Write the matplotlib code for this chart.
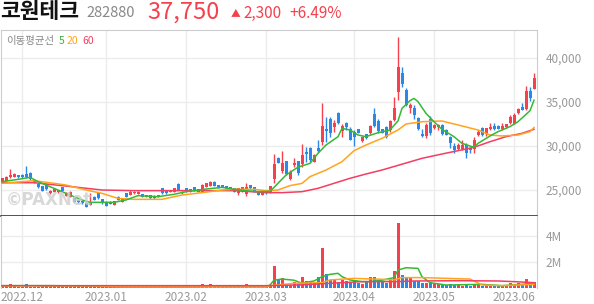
import matplotlib
matplotlib.use("Agg")
import matplotlib.pyplot as plt

plt.rcParams["font.family"] = ["Noto Sans CJK KR", "DejaVu Sans"]

# daily candles, 2022-11-24 .. 2023-06-09 (trading days)
opens = [25950, 26060, 26440, 26520, 26700, 26700, 26780, 26900, 26140, 25640,
         25450, 25640, 24620, 24810, 24740, 25300, 24320, 24240, 24130, 23870,
         23750, 23560, 23300, 24240, 24620, 23940, 23680, 23680, 23300, 24240,
         23680, 24620, 24430, 24620, 24550, 24550, 24240, 24430, 24360, 24240,
         25190, 24930, 24810, 24810, 25640, 24620, 25190, 24810, 25300, 24810,
         24810, 25380, 25450, 25950, 25570, 25570, 25450, 25300, 25190, 24620,
         24810, 24550, 25570, 25300, 24810, 24430, 25000, 24700, 26200, 28670,
         27120, 28300, 26290, 27800, 28260, 27960, 29360, 29730, 28220, 29810,
         30450, 31970, 33030, 32200, 33790, 31740, 32570, 31970, 31630, 31890,
         30570, 31360, 31440, 33640, 32840, 31890, 32200, 31820, 32950, 36170,
         38330, 36360, 34280, 34280, 33140, 31360, 31140, 33030, 32000, 32120,
         32390, 31820, 31060, 30000, 29620, 29620, 30110, 29730, 29620, 31250,
         32000, 31360, 31970, 32270, 32310, 31890, 32120, 32570, 32500, 33710,
         34390, 34170, 36300, 36500]
highs = [26420, 26600, 27400, 26900, 26750, 26780, 27730, 27000, 26200, 25700,
         25500, 25700, 24950, 25150, 25050, 25350, 24750, 24900, 24200, 23950,
         23800, 23600, 24620, 24300, 24810, 24000, 23750, 23720, 23800, 24300,
         24100, 24700, 25000, 24860, 24860, 24600, 24480, 24480, 24400, 24480,
         25250, 24980, 25050, 25240, 25800, 24860, 25240, 25130, 25350, 25130,
         25650, 25810, 26050, 26050, 25620, 25620, 25500, 25350, 25240, 25240,
         25350, 25760, 25620, 25350, 24860, 24860, 25050, 25500, 29100, 28750,
         29470, 28350, 27250, 28600, 28300, 30230, 29920, 29850, 29050, 30680,
         34850, 33250, 33250, 32950, 33850, 32450, 32760, 32200, 31820, 31950,
         31150, 31420, 32400, 34280, 33030, 31950, 32270, 32950, 35600, 42340,
         38940, 36550, 34850, 34660, 33330, 31890, 32580, 33400, 32450, 32500,
         32450, 31900, 31140, 30300, 30300, 30680, 30300, 29850, 30980, 31820,
         32120, 32080, 32580, 32580, 32350, 32580, 32500, 33520, 33700, 34280,
         34850, 36820, 36740, 38250]
lows = [25880, 26000, 26400, 26480, 26400, 26400, 26400, 26150, 25800, 25250,
        24900, 25000, 24580, 24780, 24700, 24880, 24280, 24200, 23620, 23550,
        23450, 23050, 23250, 23820, 24000, 23450, 23150, 23380, 23250, 23820,
        23640, 24200, 24400, 24580, 24500, 24200, 24200, 24000, 24000, 24200,
        24580, 24580, 24770, 24770, 24960, 24580, 24770, 24770, 24880, 24770,
        24770, 25340, 25400, 25400, 25250, 25340, 25150, 24960, 24770, 24430,
        24770, 24360, 25150, 24770, 24390, 24390, 24580, 24660, 25800, 28050,
        26900, 26750, 26150, 27650, 26700, 27650, 28200, 28220, 28150, 29350,
        30110, 30500, 31050, 31620, 32500, 31050, 31820, 30680, 30000, 31450,
        30500, 30800, 31380, 32200, 31440, 31450, 30870, 31630, 32880, 35230,
        36740, 34550, 33710, 33030, 31820, 30980, 30870, 31250, 31950, 31820,
        31300, 31200, 29730, 29170, 29540, 29540, 28600, 29150, 29170, 31140,
        31140, 31140, 31820, 31820, 31900, 31820, 32080, 32500, 32450, 33650,
        34050, 34090, 35150, 36420]
closes = [26330, 26440, 26700, 26820, 26440, 26440, 26440, 26210, 25830, 25300,
          24930, 25080, 24890, 25080, 25000, 24930, 24700, 24810, 23680, 23600,
          23490, 23110, 23680, 23870, 24050, 23490, 23180, 23410, 23750, 23870,
          24050, 24240, 24810, 24810, 24810, 24240, 24430, 24050, 24050, 24430,
          24620, 24620, 25000, 25190, 25000, 24810, 24810, 25080, 24930, 25080,
          25570, 25760, 25950, 25450, 25300, 25380, 25190, 25000, 24810, 25190,
          25300, 25300, 25190, 24810, 24430, 24810, 24620, 25450, 28000, 28100,
          28030, 26820, 27080, 28100, 26900, 28980, 29090, 28410, 28980, 29470,
          32270, 31740, 31520, 32650, 32570, 32270, 32200, 30680, 31060, 31520,
          31060, 30870, 32270, 32270, 31740, 31520, 30980, 32880, 34280, 39010,
          37040, 34660, 34660, 33520, 31890, 31140, 32390, 31440, 32390, 32390,
          31360, 31250, 30380, 29540, 30110, 30110, 29240, 29540, 30680, 31630,
          31250, 32000, 32200, 31890, 31970, 32310, 32460, 33330, 33520, 34170,
          34090, 36290, 35450, 37750]
# volume in millions of shares
volumes = [0.15, 0.12, 0.33, 0.12, 0.10, 0.10, 0.33, 0.10, 0.10, 0.10,
           0.12, 0.12, 0.12, 0.12, 0.12, 0.12, 0.12, 0.12, 0.12, 0.12,
           0.12, 0.12, 0.12, 0.05, 0.05, 0.05, 0.05, 0.05, 0.05, 0.05,
           0.05, 0.05, 0.05, 0.05, 0.05, 0.05, 0.05, 0.05, 0.05, 0.05,
           0.05, 0.05, 0.05, 0.05, 0.05, 0.05, 0.05, 0.05, 0.05, 0.05,
           0.28, 0.05, 0.28, 0.05, 0.05, 0.08, 0.05, 0.05, 0.05, 0.05,
           0.05, 0.33, 0.05, 0.05, 0.05, 0.05, 0.08, 0.15, 1.72, 0.60,
           0.80, 0.23, 0.23, 0.49, 0.28, 0.87, 0.54, 0.49, 0.36, 0.87,
           3.10, 1.05, 0.62, 0.62, 0.44, 0.62, 0.54, 0.36, 0.62, 0.36,
           0.28, 0.49, 0.87, 0.87, 0.49, 0.49, 0.36, 0.62, 1.31, 5.03,
           1.00, 0.80, 0.74, 0.54, 0.54, 0.36, 0.36, 0.49, 0.36, 0.28,
           0.28, 0.23, 0.28, 0.23, 0.20, 0.18, 0.25, 0.18, 0.22, 0.20,
           0.18, 0.20, 0.22, 0.18, 0.20, 0.18, 0.20, 0.36, 0.20, 0.36,
           0.20, 0.69, 0.30, 0.49]

# moving averages (candle index, value)
ma5_idx = [0, 4, 7, 9, 12, 16, 20, 22, 28, 31, 34, 39, 43, 46, 51, 55, 58, 61,
           64, 67, 68, 71, 74, 77, 79, 81, 84, 85, 87, 89, 91, 94, 97, 99, 100,
           102, 103, 104, 106, 108, 110, 113, 115, 118, 119, 122, 124, 127,
           129, 132, 133]
ma5_val = [25950, 26210, 26440, 25950, 25380, 24620, 23870, 23600, 23600, 23870,
           24360, 24240, 24510, 24810, 25110, 25300, 25080, 24930, 24810, 24850,
           25300, 26700, 27600, 28030, 29170, 30110, 31060, 32000, 31820, 31250,
           31060, 31510, 31820, 32850, 34280, 35150, 35410, 35040, 33710, 32760,
           31890, 31060, 30300, 29850, 30300, 31140, 31630, 32200, 32760, 34010,
           35200]
ma20_idx = [0, 8, 13, 16, 21, 25, 29, 33, 37, 40, 45, 50, 55, 58, 63, 66, 69,
            72, 75, 77, 81, 85, 88, 91, 95, 99, 101, 105, 110, 114, 119, 122,
            125, 129, 132, 133]
ma20_val = [25760, 26060, 25760, 25570, 25000, 24620, 24050, 23940, 23940, 23940,
            24430, 24700, 25000, 25080, 25080, 24930, 25000, 25500, 25750, 26520,
            27270, 28220, 29470, 30110, 30870, 31820, 32500, 32760, 32840, 32390,
            31820, 31250, 31140, 31250, 31630, 32100]
ma60_idx = [0, 8, 16, 25, 33, 41, 50, 58, 66, 70, 75, 79, 83, 87, 91, 95, 99,
            105, 110, 114, 118, 122, 126, 130, 133]
ma60_val = [25830, 25830, 25450, 25000, 24930, 24930, 24930, 24930, 24700, 24700,
            24810, 25190, 25760, 26330, 26820, 27270, 27800, 28600, 29090, 29470,
            29850, 30490, 31060, 31440, 31900]

vma5_idx = [0, 12, 22, 28, 48, 52, 56, 62, 66, 67, 68, 70, 73, 75, 76, 78, 80,
            82, 84, 85, 87, 90, 92, 95, 98, 99, 101, 104, 105, 107, 111, 120,
            125, 130, 133]
vma5_val = [0.18, 0.18, 0.15, 0.07, 0.07, 0.12, 0.08, 0.10, 0.08, 0.23, 0.60,
            0.69, 0.60, 0.36, 0.44, 0.54, 0.87, 1.05, 1.13, 0.87, 0.62, 0.49,
            0.49, 0.60, 0.80, 1.38, 1.56, 1.51, 0.87, 0.41, 0.23, 0.28, 0.18,
            0.28, 0.36]
vma20_idx = [0, 22, 30, 66, 67, 73, 80, 82, 88, 95, 98, 100, 105, 117, 120, 125, 133]
vma20_val = [0.17, 0.16, 0.10, 0.08, 0.18, 0.36, 0.41, 0.62, 0.74, 0.67, 0.62,
             0.80, 0.80, 0.69, 0.23, 0.18, 0.28]
vma60_idx = [0, 66, 74, 82, 90, 99, 103, 115, 124, 128, 133]
vma60_val = [0.18, 0.18, 0.23, 0.36, 0.49, 0.49, 0.54, 0.56, 0.54, 0.49, 0.41]

month_pos = [5, 26, 46, 66, 88, 108, 128]
month_labels = ["2022.12", "2023.01", "2023.02", "2023.03", "2023.04", "2023.05", "2023.06"]
price_ticks = [25000, 30000, 35000, 40000]
vol_ticks = [2, 4]

UP, DOWN = "#f5414d", "#2b88e6"
C5, C20, C60 = "#35b935", "#ffa41c", "#f43d63"
GRID, TXT = "#ececec", "#999999"

fig = plt.figure(figsize=(5.94, 3.04), dpi=100)
W, H = 594, 304
ax = fig.add_axes([1 / W, 88 / H, 536 / W, 186 / H])
vax = fig.add_axes([1 / W, 16 / H, 536 / W, 72 / H], sharex=ax)

xs = list(range(len(closes)))
colors = [UP if c >= o else DOWN for o, c in zip(opens, closes)]
bottoms = [min(o, c) for o, c in zip(opens, closes)]
heights = [max(abs(c - o), 40) for o, c in zip(opens, closes)]

ax.vlines(xs, lows, highs, colors=colors, linewidth=1, zorder=2)
ax.bar(xs, heights, bottom=bottoms, width=0.75, color=colors, zorder=3)
ax.plot(ma60_idx, ma60_val, color=C60, lw=1.1, zorder=4)
ax.plot(ma20_idx, ma20_val, color=C20, lw=1.1, zorder=4)
ax.plot(ma5_idx, ma5_val, color=C5, lw=1.1, zorder=4)

vax.bar(xs, volumes, width=0.75, color=colors, zorder=2)
vax.plot(vma5_idx, vma5_val, color=C5, lw=1.1, zorder=3)
vax.plot(vma20_idx, vma20_val, color=C20, lw=1.1, zorder=3)
vax.plot(vma60_idx, vma60_val, color=C60, lw=1.1, zorder=4)

ax.set_xlim(-0.25, 133.75)
ax.set_ylim(22048, 43178)
vax.set_ylim(0, 5.54)

for a in (ax, vax):
    a.set_axisbelow(True)
    a.grid(True, color=GRID, lw=1)
    a.yaxis.tick_right()
    a.tick_params(axis="y", length=0, pad=6, labelcolor=TXT, labelsize=8.5)
    a.set_xticks(month_pos)
    for s in ("left", "right", "top"):
        a.spines[s].set_color("#cccccc")

ax.set_yticks(price_ticks)
ax.set_yticklabels([f"{t:,}" for t in price_ticks])
ax.tick_params(axis="x", length=0, labelbottom=False)
ax.spines["bottom"].set_color("#333333")
ax.spines["bottom"].set_linewidth(1.2)

vax.set_yticks(vol_ticks)
vax.set_yticklabels([f"{t}M" for t in vol_ticks])
vax.set_xticklabels(month_labels)
vax.tick_params(axis="x", length=0, pad=2, labelcolor=TXT, labelsize=8.5)
vax.spines["top"].set_visible(False)
vax.spines["bottom"].set_visible(False)

ax.text(0.008, 0.06, "©PAXNet", transform=ax.transAxes, fontsize=12,
        fontweight="bold", color="#cfcfcf", alpha=0.8, family=["DejaVu Sans"], zorder=5)

def ftext(x, y, s, **kw):
    fig.text(x / W, 1 - y / H, s, va="center", ha="left", **kw)

ftext(0, 12, "코원테크", fontsize=15.5, fontweight="bold", color="#111111")
ftext(86, 13, "282880", fontsize=10.5, color="#888888")
ftext(147, 12, "37,750", fontsize=17, color=UP)
ftext(231, 13, "▲", fontsize=7, color=UP)
ftext(243, 13, "2,300", fontsize=11, color=UP)
ftext(289, 13, "+6.49%", fontsize=11, color=UP)

ftext(6, 41, "이동평균선", fontsize=7.5, color="#888888")
ftext(59, 41, "5", fontsize=7.5, color=C5)
ftext(67, 41, "20", fontsize=7.5, color=C20)
ftext(82, 41, "60", fontsize=7.5, color=C60)

fig.savefig("out.png", dpi=100, facecolor="white")
